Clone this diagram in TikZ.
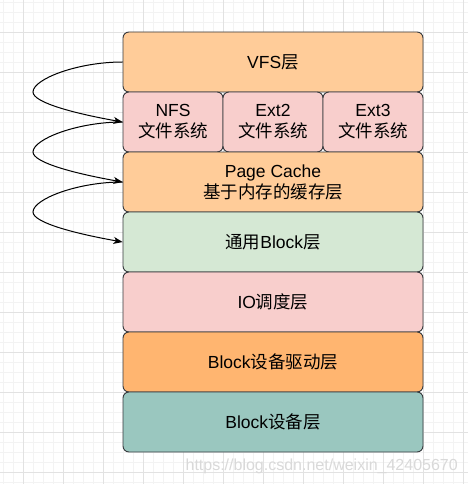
\documentclass[tikz,border=0pt]{standalone}
\usepackage{fontspec}
\setmainfont{Liberation Sans}
\newfontfamily\cjk{Noto Sans CJK SC}
\usetikzlibrary{arrows.meta}
\definecolor{gridminor}{HTML}{F3F3F3}
\definecolor{gridmajor}{HTML}{E2E2E2}
\definecolor{borderc}{HTML}{36393D}
\definecolor{orangel}{HTML}{FFCC99}
\definecolor{pinkl}{HTML}{F8CECC}
\definecolor{greenl}{HTML}{D5E8D4}
\definecolor{oranged}{HTML}{FFB570}
\definecolor{tealc}{HTML}{9AC7BF}
\tikzset{
  layer/.style={draw=borderc, line width=0.9pt, rounded corners=6pt, minimum width=300pt, minimum height=60pt, inner sep=0pt, align=center, font=\fontsize{17.5}{21}\selectfont},
  fsbox/.style={layer, minimum width=100pt},
  arr/.style={draw=black, line width=1pt, -{Stealth[length=9pt,width=7pt,inset=2.5pt]}},
}
\begin{document}
\begin{tikzpicture}[x=1pt,y=-1pt]
\useasboundingbox (0,0) rectangle (468,484);
\fill[white] (0,0) rectangle (468,484);
% grid
\foreach \x in {3,13,...,463} \draw[gridminor, line width=0.8pt] (\x,0) -- (\x,484);
\foreach \y in {2,12,...,482} \draw[gridminor, line width=0.8pt] (0,\y) -- (468,\y);
\foreach \x in {23,63,...,463} \draw[gridmajor, line width=0.9pt] (\x,0) -- (\x,484);
\foreach \y in {32,72,...,472} \draw[gridmajor, line width=0.9pt] (0,\y) -- (468,\y);
% layers
\node[layer, fill=orangel] (vfs) at (273,62) {VFS{\cjk 层}};
\node[fsbox, fill=pinkl] (nfs) at (173,122) {NFS\\{\cjk 文件系统}};
\node[fsbox, fill=pinkl] (ext2) at (273,122) {Ext2\\{\cjk 文件系统}};
\node[fsbox, fill=pinkl] (ext3) at (373,122) {Ext3\\{\cjk 文件系统}};
\node[layer, fill=orangel] (pc) at (273,182) {Page Cache\\{\cjk 基于内存的缓存层}};
\node[layer, fill=greenl] (gb) at (273,242) {{\cjk 通用}Block{\cjk 层}};
\node[layer, fill=pinkl] (io) at (273,302) {IO{\cjk 调度层}};
\node[layer, fill=oranged] (drv) at (273,362) {Block{\cjk 设备驱动层}};
\node[layer, fill=tealc] (dev) at (273,422) {Block{\cjk 设备层}};
% curved connectors
\coordinate (m1) at (33,92);
\coordinate (m2) at (33,152);
\coordinate (m3) at (33,212);
\draw[arr] (vfs.west) .. controls +(-45,0) and +(0,-13) .. (m1) .. controls +(0,11) and +(-45,-8) .. (nfs.west);
\draw[arr] (nfs.west) .. controls +(-45,0) and +(0,-13) .. (m2) .. controls +(0,11) and +(-45,-8) .. (pc.west);
\draw[arr] (pc.west) .. controls +(-45,0) and +(0,-13) .. (m3) .. controls +(0,11) and +(-45,-8) .. (gb.west);
% watermark
\node[text=gray!30, font=\fontsize{16}{19}\selectfont, anchor=east, inner sep=0pt] (wm) at (458,466) {https://blog.csdn.net/weixin\_42405670};
\end{tikzpicture}
\end{document}
